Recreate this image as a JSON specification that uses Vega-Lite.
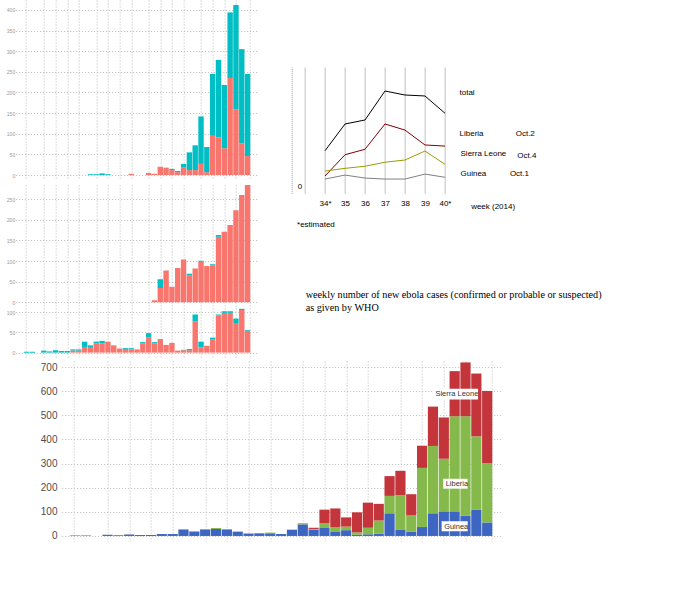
{
  "$schema": "https://vega.github.io/schema/vega-lite/v6.json",
  "background": "white",
  "padding": {"left": 5.66, "top": 0, "right": 0, "bottom": 0},
  "config": {"view": {"stroke": null}, "axis": {"domain": false, "ticks": false, "labelOverlap": false, "labelFlush": false, "labelBound": false}},
  "resolve": {"scale": {"color": "independent"}},
  "datasets": {
    "cases": [
      {"i":0,"country":"Guinea","type":"suspected","n":2},
      {"i":1,"country":"Guinea","type":"suspected","n":2},
      {"i":3,"country":"Guinea","type":"suspected","n":5},
      {"i":4,"country":"Guinea","type":"suspected","n":3},
      {"i":5,"country":"Guinea","type":"suspected","n":6},
      {"i":6,"country":"Guinea","type":"suspected","n":4},
      {"i":7,"country":"Guinea","type":"suspected","n":4},
      {"i":8,"country":"Guinea","type":"confirmed","n":5},
      {"i":8,"country":"Guinea","type":"suspected","n":3},
      {"i":9,"country":"Guinea","type":"confirmed","n":5},
      {"i":9,"country":"Guinea","type":"suspected","n":3},
      {"i":10,"country":"Guinea","type":"confirmed","n":14},
      {"i":10,"country":"Guinea","type":"suspected","n":13},
      {"i":11,"country":"Guinea","type":"confirmed","n":14},
      {"i":11,"country":"Guinea","type":"suspected","n":4},
      {"i":12,"country":"Guinea","type":"confirmed","n":23},
      {"i":12,"country":"Guinea","type":"suspected","n":4},
      {"i":13,"country":"Guinea","type":"confirmed","n":23},
      {"i":13,"country":"Guinea","type":"suspected","n":6},
      {"i":14,"country":"Guinea","type":"confirmed","n":27},
      {"i":15,"country":"Guinea","type":"confirmed","n":18},
      {"i":16,"country":"Guinea","type":"confirmed","n":10},
      {"i":17,"country":"Guinea","type":"confirmed","n":7},
      {"i":17,"country":"Guinea","type":"suspected","n":4},
      {"i":18,"country":"Guinea","type":"confirmed","n":8},
      {"i":18,"country":"Guinea","type":"suspected","n":3},
      {"i":19,"country":"Guinea","type":"confirmed","n":8},
      {"i":20,"country":"Guinea","type":"confirmed","n":23},
      {"i":20,"country":"Guinea","type":"suspected","n":3},
      {"i":21,"country":"Guinea","type":"confirmed","n":37},
      {"i":21,"country":"Guinea","type":"suspected","n":11},
      {"i":22,"country":"Guinea","type":"confirmed","n":23},
      {"i":22,"country":"Guinea","type":"suspected","n":3},
      {"i":23,"country":"Guinea","type":"confirmed","n":31},
      {"i":23,"country":"Guinea","type":"suspected","n":2},
      {"i":24,"country":"Guinea","type":"confirmed","n":19},
      {"i":25,"country":"Guinea","type":"confirmed","n":24},
      {"i":26,"country":"Guinea","type":"confirmed","n":5},
      {"i":27,"country":"Guinea","type":"confirmed","n":6},
      {"i":27,"country":"Guinea","type":"suspected","n":1},
      {"i":28,"country":"Guinea","type":"confirmed","n":6},
      {"i":28,"country":"Guinea","type":"suspected","n":3},
      {"i":29,"country":"Guinea","type":"confirmed","n":77},
      {"i":29,"country":"Guinea","type":"suspected","n":17},
      {"i":30,"country":"Guinea","type":"confirmed","n":13},
      {"i":30,"country":"Guinea","type":"suspected","n":14},
      {"i":31,"country":"Guinea","type":"confirmed","n":17},
      {"i":32,"country":"Guinea","type":"confirmed","n":33},
      {"i":32,"country":"Guinea","type":"suspected","n":4},
      {"i":33,"country":"Guinea","type":"confirmed","n":92},
      {"i":33,"country":"Guinea","type":"suspected","n":2},
      {"i":34,"country":"Guinea","type":"confirmed","n":98},
      {"i":34,"country":"Guinea","type":"suspected","n":4},
      {"i":35,"country":"Guinea","type":"confirmed","n":98},
      {"i":35,"country":"Guinea","type":"suspected","n":4},
      {"i":36,"country":"Guinea","type":"confirmed","n":73},
      {"i":36,"country":"Guinea","type":"suspected","n":11},
      {"i":37,"country":"Guinea","type":"confirmed","n":105},
      {"i":37,"country":"Guinea","type":"suspected","n":3},
      {"i":38,"country":"Guinea","type":"confirmed","n":54},
      {"i":38,"country":"Guinea","type":"suspected","n":2},
      {"i":11,"country":"Liberia","type":"suspected","n":2},
      {"i":12,"country":"Liberia","type":"suspected","n":2},
      {"i":13,"country":"Liberia","type":"suspected","n":4},
      {"i":14,"country":"Liberia","type":"suspected","n":2},
      {"i":18,"country":"Liberia","type":"confirmed","n":3},
      {"i":21,"country":"Liberia","type":"confirmed","n":5},
      {"i":22,"country":"Liberia","type":"confirmed","n":3},
      {"i":23,"country":"Liberia","type":"confirmed","n":20},
      {"i":24,"country":"Liberia","type":"confirmed","n":18},
      {"i":25,"country":"Liberia","type":"confirmed","n":12},
      {"i":25,"country":"Liberia","type":"suspected","n":3},
      {"i":26,"country":"Liberia","type":"confirmed","n":7},
      {"i":26,"country":"Liberia","type":"suspected","n":3},
      {"i":27,"country":"Liberia","type":"confirmed","n":18},
      {"i":27,"country":"Liberia","type":"suspected","n":9},
      {"i":28,"country":"Liberia","type":"confirmed","n":12},
      {"i":28,"country":"Liberia","type":"suspected","n":43},
      {"i":29,"country":"Liberia","type":"confirmed","n":12},
      {"i":29,"country":"Liberia","type":"suspected","n":60},
      {"i":30,"country":"Liberia","type":"confirmed","n":27},
      {"i":30,"country":"Liberia","type":"suspected","n":115},
      {"i":31,"country":"Liberia","type":"confirmed","n":7},
      {"i":31,"country":"Liberia","type":"suspected","n":61},
      {"i":32,"country":"Liberia","type":"confirmed","n":95},
      {"i":32,"country":"Liberia","type":"suspected","n":150},
      {"i":33,"country":"Liberia","type":"confirmed","n":91},
      {"i":33,"country":"Liberia","type":"suspected","n":188},
      {"i":34,"country":"Liberia","type":"confirmed","n":65},
      {"i":34,"country":"Liberia","type":"suspected","n":153},
      {"i":35,"country":"Liberia","type":"confirmed","n":235},
      {"i":35,"country":"Liberia","type":"suspected","n":159},
      {"i":36,"country":"Liberia","type":"confirmed","n":159},
      {"i":36,"country":"Liberia","type":"suspected","n":253},
      {"i":37,"country":"Liberia","type":"confirmed","n":77},
      {"i":37,"country":"Liberia","type":"suspected","n":228},
      {"i":38,"country":"Liberia","type":"confirmed","n":46},
      {"i":38,"country":"Liberia","type":"suspected","n":199},
      {"i":22,"country":"Sierra Leone","type":"confirmed","n":5},
      {"i":23,"country":"Sierra Leone","type":"confirmed","n":35},
      {"i":23,"country":"Sierra Leone","type":"suspected","n":21},
      {"i":24,"country":"Sierra Leone","type":"confirmed","n":77},
      {"i":25,"country":"Sierra Leone","type":"confirmed","n":38},
      {"i":26,"country":"Sierra Leone","type":"confirmed","n":83},
      {"i":27,"country":"Sierra Leone","type":"confirmed","n":104},
      {"i":28,"country":"Sierra Leone","type":"confirmed","n":65},
      {"i":28,"country":"Sierra Leone","type":"suspected","n":4},
      {"i":29,"country":"Sierra Leone","type":"confirmed","n":82},
      {"i":30,"country":"Sierra Leone","type":"confirmed","n":98},
      {"i":30,"country":"Sierra Leone","type":"suspected","n":3},
      {"i":31,"country":"Sierra Leone","type":"confirmed","n":88},
      {"i":32,"country":"Sierra Leone","type":"confirmed","n":90},
      {"i":32,"country":"Sierra Leone","type":"suspected","n":2},
      {"i":33,"country":"Sierra Leone","type":"confirmed","n":159},
      {"i":33,"country":"Sierra Leone","type":"suspected","n":4},
      {"i":34,"country":"Sierra Leone","type":"confirmed","n":171},
      {"i":35,"country":"Sierra Leone","type":"confirmed","n":187},
      {"i":36,"country":"Sierra Leone","type":"confirmed","n":223},
      {"i":37,"country":"Sierra Leone","type":"confirmed","n":260},
      {"i":38,"country":"Sierra Leone","type":"confirmed","n":300}
    ],
    "lines": [
      {"week":34,"series":"total","v":225},{"week":35,"series":"total","v":392},{"week":36,"series":"total","v":417},{"week":37,"series":"total","v":598},{"week":38,"series":"total","v":573},{"week":39,"series":"total","v":567},{"week":40,"series":"total","v":459},
      {"week":34,"series":"Liberia","v":67},{"week":35,"series":"Liberia","v":200},{"week":36,"series":"Liberia","v":234},{"week":37,"series":"Liberia","v":392},{"week":38,"series":"Liberia","v":354},{"week":39,"series":"Liberia","v":261},{"week":40,"series":"Liberia","v":254},
      {"week":34,"series":"Sierra Leone","v":98},{"week":35,"series":"Sierra Leone","v":115},{"week":36,"series":"Sierra Leone","v":128},{"week":37,"series":"Sierra Leone","v":153},{"week":38,"series":"Sierra Leone","v":167},{"week":39,"series":"Sierra Leone","v":223},{"week":40,"series":"Sierra Leone","v":140},
      {"week":34,"series":"Guinea","v":48},{"week":35,"series":"Guinea","v":73},{"week":36,"series":"Guinea","v":54},{"week":37,"series":"Guinea","v":48},{"week":38,"series":"Guinea","v":48},{"week":39,"series":"Guinea","v":79},{"week":40,"series":"Guinea","v":59}
    ],
    "dnotes": [
      {"week":40.73,"v":584,"label":"total"},
      {"week":40.73,"v":329,"label":"Liberia"},
      {"week":43.54,"v":329,"label":"Oct.2"},
      {"week":40.78,"v":202,"label":"Sierra Leone"},
      {"week":43.62,"v":194,"label":"Oct.4"},
      {"week":40.78,"v":77,"label":"Guinea"},
      {"week":43.25,"v":77,"label":"Oct.1"},
      {"week":32.6,"v":-239,"label":"*estimated"}
    ],
    "dtitle": [
      {"week":33.03,"v":-677,"label":"weekly number of new ebola cases (confirmed or probable or suspected)"},
      {"week":33.03,"v":-758,"label":"as given by WHO"}
    ],
    "enotes": [
      {"x1":33.0,"x2":37.16,"y1":565,"y2":610,"label":"Sierra Leone"},
      {"x1":33.94,"x2":36.19,"y1":196,"y2":237,"label":"Liberia"},
      {"x1":33.8,"x2":36.2,"y1":19.5,"y2":61,"label":"Guinea"}
    ]
  },
  "spacing": 2,
  "vconcat": [
    {
      "spacing": 34,
      "resolve": {"scale": {"color": "independent"}},
      "hconcat": [
        {
          "spacing": 5, "bounds": "flush",
          "resolve": {"scale": {"color": "independent"}},
          "vconcat": [
            {
              "width": 242, "height": 180,
              "data": {"name": "cases"},
              "transform": [{"filter": "datum.country == 'Liberia'"}],
              "mark": {"type": "bar", "width": 5.4},
              "encoding": {
                "x": {"field": "i", "type": "quantitative", "scale": {"domain": [-0.99, 38.87], "nice": false, "zero": false},
                      "axis": {"labels": false, "title": null, "grid": true, "gridColor": "#bbbbbb", "gridDash": [1, 2], "values": [-0.14, 3, 5, 7, 9, 12, 14, 16, 18, 21, 23, 25, 27, 30, 32, 34, 36, 38.4]}},
                "y": {"field": "n", "type": "quantitative", "scale": {"domain": [-12, 424], "nice": false, "zero": false},
                      "axis": {"title": null, "values": [0, 50, 100, 150, 200, 250, 300, 350, 400], "labelFont": "Liberation Sans", "labelFontSize": 5, "labelColor": "#999999", "labelPadding": 1, "gridColor": "#bbbbbb", "gridDash": [1, 2]}},
                "color": {"field": "type", "type": "nominal", "scale": {"domain": ["confirmed", "suspected"], "range": ["#F8766D", "#00BFC4"]}, "legend": null},
                "order": {"field": "type", "sort": "ascending"}
              }
            },
            {
              "spacing": 1, "bounds": "flush",
              "resolve": {"scale": {"color": "independent"}},
              "vconcat": [
                {
                  "width": 242, "height": 121.5,
                  "data": {"name": "cases"},
                  "transform": [{"filter": "datum.country == 'Sierra Leone'"}],
                  "mark": {"type": "bar", "width": 5.4, "clip": true},
                  "encoding": {
                    "x": {"field": "i", "type": "quantitative", "scale": {"domain": [-0.99, 38.87], "nice": false, "zero": false},
                          "axis": {"labels": false, "title": null, "grid": true, "gridColor": "#bbbbbb", "gridDash": [1, 2], "values": [-0.14, 3, 5, 7, 9, 12, 14, 16, 18, 21, 23, 25, 27, 30, 32, 34, 36, 38.4]}},
                    "y": {"field": "n", "type": "quantitative", "scale": {"domain": [-10, 284], "nice": false, "zero": false},
                          "axis": {"title": null, "values": [0, 50, 100, 150, 200, 250], "labelFont": "Liberation Sans", "labelFontSize": 5, "labelColor": "#999999", "labelPadding": 1, "gridColor": "#bbbbbb", "gridDash": [1, 2]}},
                    "color": {"field": "type", "type": "nominal", "scale": {"domain": ["confirmed", "suspected"], "range": ["#F8766D", "#00BFC4"]}, "legend": null},
                    "order": {"field": "type", "sort": "ascending"}
                  }
                },
                {
                  "width": 242, "height": 49.5,
                  "data": {"name": "cases"},
                  "transform": [{"filter": "datum.country == 'Guinea'"}],
                  "mark": {"type": "bar", "width": 5.4},
                  "encoding": {
                    "x": {"field": "i", "type": "quantitative", "scale": {"domain": [-0.99, 38.87], "nice": false, "zero": false},
                          "axis": {"labels": false, "title": null, "grid": true, "gridColor": "#bbbbbb", "gridDash": [1, 2], "values": [-0.14, 3, 5, 7, 9, 12, 14, 16, 18, 21, 23, 25, 27, 30, 32, 34, 36, 38.4]}},
                    "y": {"field": "n", "type": "quantitative", "scale": {"domain": [-12, 110], "nice": false, "zero": false},
                          "axis": {"title": null, "values": [0, 50, 100], "labelFont": "Liberation Sans", "labelFontSize": 5, "labelColor": "#999999", "labelPadding": 1, "gridColor": "#bbbbbb", "gridDash": [1, 2]}},
                    "color": {"field": "type", "type": "nominal", "scale": {"domain": ["confirmed", "suspected"], "range": ["#F8766D", "#00BFC4"]}, "legend": null},
                    "order": {"field": "type", "sort": "ascending"}
                  }
                }
              ]
            }
          ]
        },
        {
          "spacing": 0, "bounds": "flush",
          "resolve": {"scale": {"color": "independent"}},
          "vconcat": [
            {"width": 10, "height": 67, "data": {"values": [{}]}, "mark": {"type": "text", "text": ""}, "encoding": {}},
            {
              "width": 153.3, "height": 126.3,
              "encoding": {
                "x": {"field": "week", "type": "quantitative", "scale": {"domain": [32.33, 40], "nice": false, "zero": false},
                      "axis": {"values": [33, 34, 35, 36, 37, 38, 39, 40], "grid": true, "gridColor": "#c0c0c0", "gridWidth": 1,
                               "labelExpr": "datum.value == 33 ? '' : ((datum.value == 34 || datum.value == 40) ? datum.value + '*' : '' + datum.value)",
                               "labelFont": "Liberation Sans", "labelFontSize": 8, "labelColor": "black", "labelBaseline": "top", "labelPadding": 6, "labelAngle": 0,
                               "title": "week (2014)", "titleX": 179, "titleY": 12.7, "titleAlign": "left", "titleBaseline": "middle", "titleFont": "Liberation Sans", "titleFontSize": 8, "titleFontWeight": "normal", "titleColor": "black"}},
                "y": {"field": "v", "type": "quantitative", "scale": {"domain": [-41, 748], "nice": false, "zero": false},
                      "axis": {"values": [0], "grid": false, "domain": true, "domainColor": "#999999", "domainDash": [1, 1], "labelAlign": "left", "labelPadding": -5.7, "labelFont": "Liberation Sans", "labelFontSize": 8, "labelColor": "black", "title": null}}
              },
              "layer": [
                {
                  "data": {"name": "lines"},
                  "mark": {"type": "line", "strokeWidth": 1},
                  "encoding": {
                    "color": {"field": "series", "type": "nominal", "scale": {"domain": ["total", "Liberia", "Sierra Leone", "Guinea"], "range": ["#000000", "#800000", "#9c9c00", "#808080"]}, "legend": null}
                  }
                },
                {
                  "data": {"values": [{}]},
                  "mark": {"type": "rule", "color": "#c0c0c0", "strokeWidth": 1},
                  "encoding": {
                    "x": {"datum": 33, "type": "quantitative", "scale": {"domain": [32.33, 40], "nice": false, "zero": false},
                          "axis": {"values": [33, 34, 35, 36, 37, 38, 39, 40], "grid": true, "gridColor": "#c0c0c0", "gridWidth": 1,
                                   "labelExpr": "datum.value == 33 ? '' : ((datum.value == 34 || datum.value == 40) ? datum.value + '*' : '' + datum.value)",
                                   "labelFont": "Liberation Sans", "labelFontSize": 8, "labelColor": "black", "labelBaseline": "top", "labelPadding": 6, "labelAngle": 0,
                                   "title": "week (2014)", "titleX": 179, "titleY": 12.7, "titleAlign": "left", "titleBaseline": "middle", "titleFont": "Liberation Sans", "titleFontSize": 8, "titleFontWeight": "normal", "titleColor": "black"}},
                    "x2": {"datum": 40},
                    "y": {"datum": 0, "type": "quantitative", "scale": {"domain": [-41, 748], "nice": false, "zero": false},
                          "axis": {"values": [0], "grid": false, "domain": true, "domainColor": "#999999", "domainDash": [1, 1], "labelAlign": "left", "labelPadding": -5.7, "labelFont": "Liberation Sans", "labelFontSize": 8, "labelColor": "black", "title": null}}
                  }
                },
                {
                  "data": {"name": "dnotes"},
                  "mark": {"type": "text", "align": "left", "baseline": "middle", "font": "Liberation Sans", "fontSize": 8, "color": "black"},
                  "encoding": {"text": {"field": "label"}}
                },
                {
                  "data": {"name": "dtitle"},
                  "mark": {"type": "text", "align": "left", "baseline": "middle", "font": "Liberation Serif", "fontSize": 10.2, "color": "black"},
                  "encoding": {"text": {"field": "label"}}
                }
              ]
            }
          ]
        }
      ]
    },
    {
      "spacing": 0,
      "resolve": {"scale": {"color": "independent"}},
      "hconcat": [
        {"width": 24, "height": 10, "data": {"values": [{}]}, "mark": {"type": "text", "text": ""}, "encoding": {}},
        {
          "width": 439, "height": 181,
          "layer": [
            {
              "data": {"name": "cases"},
              "mark": {"type": "bar", "width": 10.2},
              "encoding": {
                "x": {"field": "i", "type": "quantitative", "scale": {"domain": [-0.77, 38.78], "nice": false, "zero": false},
                      "axis": {"labels": false, "title": null, "grid": true, "gridColor": "#bdbdbd", "gridDash": [1, 2], "values": [-0.14, 3, 5, 7, 9, 12, 14, 16, 18, 21, 23, 25, 27, 30, 32, 34, 36, 38.4]}},
                "y": {"aggregate": "sum", "field": "n", "type": "quantitative", "scale": {"domain": [-25, 725], "nice": false, "zero": false},
                      "axis": {"title": null, "values": [0, 100, 200, 300, 400, 500, 600, 700], "labelFont": "Liberation Sans", "labelFontSize": 10, "labelColor": "#4d4d4d", "labelPadding": 4.7, "gridColor": "#bdbdbd", "gridDash": [1, 2]}},
                "color": {"field": "country", "type": "nominal", "scale": {"domain": ["Guinea", "Liberia", "Sierra Leone"], "range": ["#3d66c2", "#86b94b", "#c3343b"]}, "legend": null},
                "order": {"field": "country", "sort": "ascending"}
              }
            },
            {
              "data": {"name": "enotes"},
              "mark": {"type": "rect", "fill": "white"},
              "encoding": {
                "x": {"field": "x1", "type": "quantitative", "scale": {"domain": [-0.77, 38.78], "nice": false, "zero": false},
                      "axis": {"labels": false, "title": null, "grid": true, "gridColor": "#bdbdbd", "gridDash": [1, 2], "values": [-0.14, 3, 5, 7, 9, 12, 14, 16, 18, 21, 23, 25, 27, 30, 32, 34, 36, 38.4]}},
                "x2": {"field": "x2"},
                "y": {"field": "y1", "type": "quantitative", "scale": {"domain": [-25, 725], "nice": false, "zero": false},
                      "axis": {"title": null, "values": [0, 100, 200, 300, 400, 500, 600, 700], "labelFont": "Liberation Sans", "labelFontSize": 10, "labelColor": "#4d4d4d", "labelPadding": 4.7, "gridColor": "#bdbdbd", "gridDash": [1, 2]}},
                "y2": {"field": "y2"}
              }
            },
            {
              "data": {"name": "enotes"},
              "mark": {"type": "text", "align": "left", "baseline": "top", "dx": 2.5, "dy": 1.5, "font": "Liberation Sans", "fontSize": 7.5, "color": "#333333"},
              "encoding": {
                "x": {"field": "x1", "type": "quantitative", "scale": {"domain": [-0.77, 38.78], "nice": false, "zero": false},
                      "axis": {"labels": false, "title": null, "grid": true, "gridColor": "#bdbdbd", "gridDash": [1, 2], "values": [-0.14, 3, 5, 7, 9, 12, 14, 16, 18, 21, 23, 25, 27, 30, 32, 34, 36, 38.4]}},
                "y": {"field": "y2", "type": "quantitative", "scale": {"domain": [-25, 725], "nice": false, "zero": false},
                      "axis": {"title": null, "values": [0, 100, 200, 300, 400, 500, 600, 700], "labelFont": "Liberation Sans", "labelFontSize": 10, "labelColor": "#4d4d4d", "labelPadding": 4.7, "gridColor": "#bdbdbd", "gridDash": [1, 2]}},
                "text": {"field": "label"}
              }
            }
          ]
        }
      ]
    }
  ]
}
